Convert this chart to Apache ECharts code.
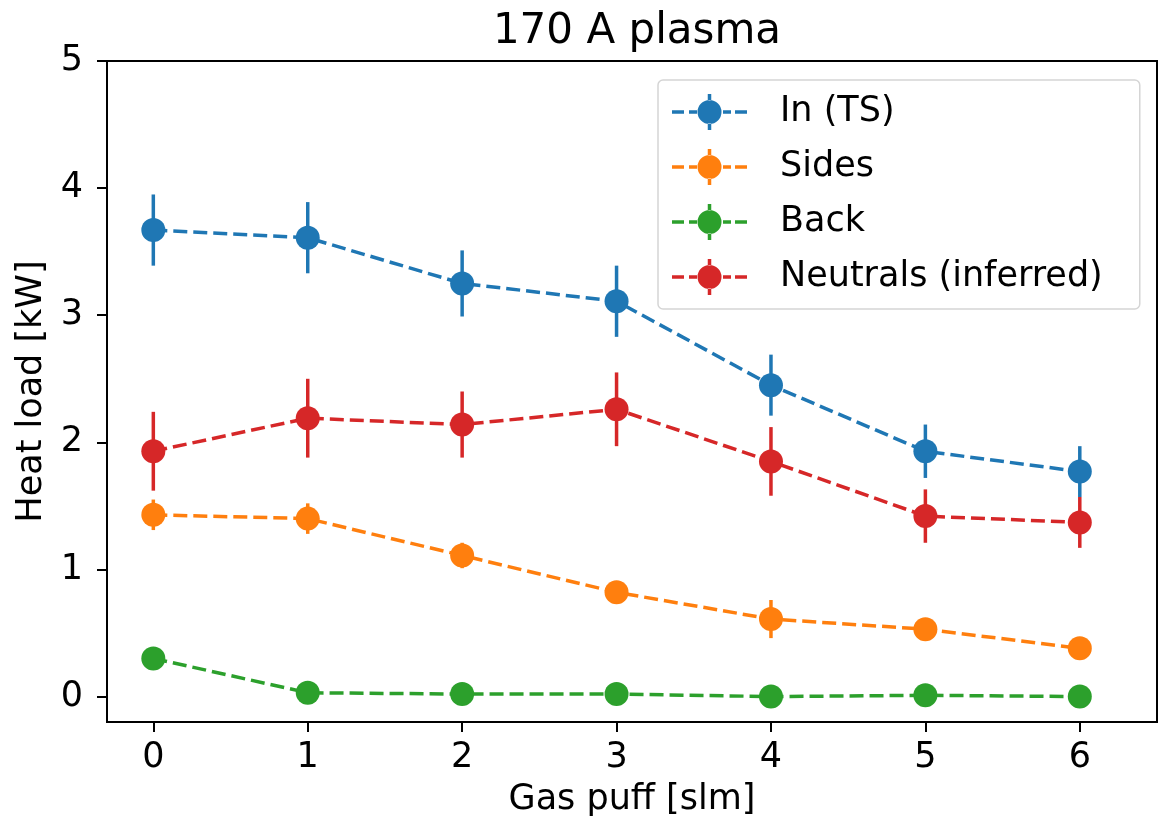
<!DOCTYPE html>
<html>
<head>
<meta charset="utf-8">
<script src="https://cdn.jsdelivr.net/npm/echarts@6/dist/echarts.min.js"></script>
<style>
  html, body { margin: 0; padding: 0; background: #fff; }
  #chart { width: 1166px; height: 833px; }
</style>
</head>
<body>
<div id="chart"></div>
<script>
// data
var gasPuff = [0, 1, 2, 3, 4, 5, 6];
var inTS = [3.67, 3.61, 3.25, 3.11, 2.45, 1.93, 1.77];
var inTSErr = [0.28, 0.28, 0.26, 0.28, 0.24, 0.21, 0.20];
var sides = [1.43, 1.40, 1.11, 0.82, 0.61, 0.53, 0.38];
var sidesErr = [0.12, 0.12, 0.10, 0.07, 0.15, 0.06, 0.05];
var back = [0.30, 0.03, 0.02, 0.02, 0.00, 0.01, 0.00];
var backErr = [0.02, 0.02, 0.02, 0.02, 0.02, 0.02, 0.02];
var neutrals = [1.93, 2.19, 2.14, 2.26, 1.85, 1.42, 1.37];
var neutralsErr = [0.31, 0.31, 0.26, 0.29, 0.27, 0.21, 0.20];

var xTicks = [0, 1, 2, 3, 4, 5, 6];
var yTicks = [0, 1, 2, 3, 4, 5];

var names = ['In (TS)', 'Sides', 'Back', 'Neutrals (inferred)'];
var colors = ['#1f77b4', '#ff7f0e', '#2ca02c', '#d62728'];
var values = [inTS, sides, back, neutrals];
var errors = [inTSErr, sidesErr, backErr, neutralsErr];

var font = 'DejaVu Sans';
// legend handle: dashes, marker and error bar, as one filled path
var handle = 'path://M0 16.25h12v3.5h-12Z M17 16.25h8v3.5h-8Z M51 16.25h8v3.5h-8Z M63 16.25h12v3.5h-12Z ' +
  'M25.5 18A12 12 0 1 0 49.5 18A12 12 0 1 0 25.5 18Z M35.75 0h3.5v6.5h-3.5Z M35.75 29.5h3.5v6.5h-3.5Z';

var series = [];
names.forEach(function (name, k) {
  series.push({
    name: name + ' err',
    type: 'custom',
    silent: true,
    data: gasPuff.map(function (x, i) {
      return [x, values[k][i] - errors[k][i], values[k][i] + errors[k][i]];
    }),
    encode: { x: 0, y: [1, 2] },
    renderItem: function (params, api) {
      var a = api.coord([api.value(0), api.value(1)]);
      var b = api.coord([api.value(0), api.value(2)]);
      return {
        type: 'line',
        shape: { x1: a[0], y1: a[1], x2: b[0], y2: b[1] },
        style: { stroke: colors[k], lineWidth: 3.5 }
      };
    }
  });
  series.push({
    name: name,
    type: 'line',
    data: gasPuff.map(function (x, i) { return [x, values[k][i]]; }),
    symbol: 'circle',
    symbolSize: 24,
    color: colors[k],
    itemStyle: { color: colors[k], borderWidth: 0 },
    lineStyle: { color: colors[k], width: 3.5, type: [14, 6] }
  });
});

var myChart = echarts.init(document.getElementById('chart'));
option = {
  animation: false,
  backgroundColor: '#fff',
  title: {
    text: '170 A plasma',
    left: 632,
    textAlign: 'center',
    top: 6,
    textStyle: { fontFamily: font, fontSize: 42, fontWeight: 'normal', color: '#000' }
  },
  grid: {
    left: 107, right: 9, top: 61, bottom: 111,
    show: true, borderColor: '#000', borderWidth: 2,
    outerBoundsMode: 'none'
  },
  legend: {
    orient: 'vertical',
    left: 658,
    top: 80,
    padding: [14, 37, 14, 14],
    itemWidth: 75,
    itemHeight: 36,
    itemGap: 19,
    borderColor: '#d5d5d5',
    borderWidth: 1.5,
    borderRadius: 5,
    backgroundColor: 'rgba(255,255,255,0.8)',
    data: names.map(function (n) { return { name: n, icon: handle }; }),
    textStyle: { fontFamily: font, fontSize: 35, color: '#000', padding: [0, 0, 0, 28] }
  },
  xAxis: {
    type: 'value',
    min: -0.3,
    max: 6.5,
    name: 'Gas puff [slm]',
    nameLocation: 'middle',
    nameGap: 60,
    nameTextStyle: { fontFamily: font, fontSize: 35, color: '#000' },
    axisLine: { show: true, onZero: false, lineStyle: { color: '#000', width: 2 } },
    axisTick: { show: true, length: 10, lineStyle: { color: '#000', width: 2 }, customValues: xTicks },
    axisLabel: { fontFamily: font, fontSize: 35, color: '#000', margin: 18, customValues: xTicks },
    splitLine: { show: false }
  },
  yAxis: {
    type: 'value',
    min: -0.2,
    max: 5,
    name: 'Heat load [kW]',
    nameLocation: 'middle',
    nameRotate: 90,
    nameGap: 58,
    nameTextStyle: { fontFamily: font, fontSize: 35, color: '#000' },
    axisLine: { show: true, onZero: false, lineStyle: { color: '#000', width: 2 } },
    axisTick: { show: true, length: 10, lineStyle: { color: '#000', width: 2 }, customValues: yTicks },
    axisLabel: { fontFamily: font, fontSize: 35, color: '#000', margin: 24, customValues: yTicks },
    splitLine: { show: false }
  },
  series: series
};
myChart.setOption(option);
</script>
</body>
</html>
